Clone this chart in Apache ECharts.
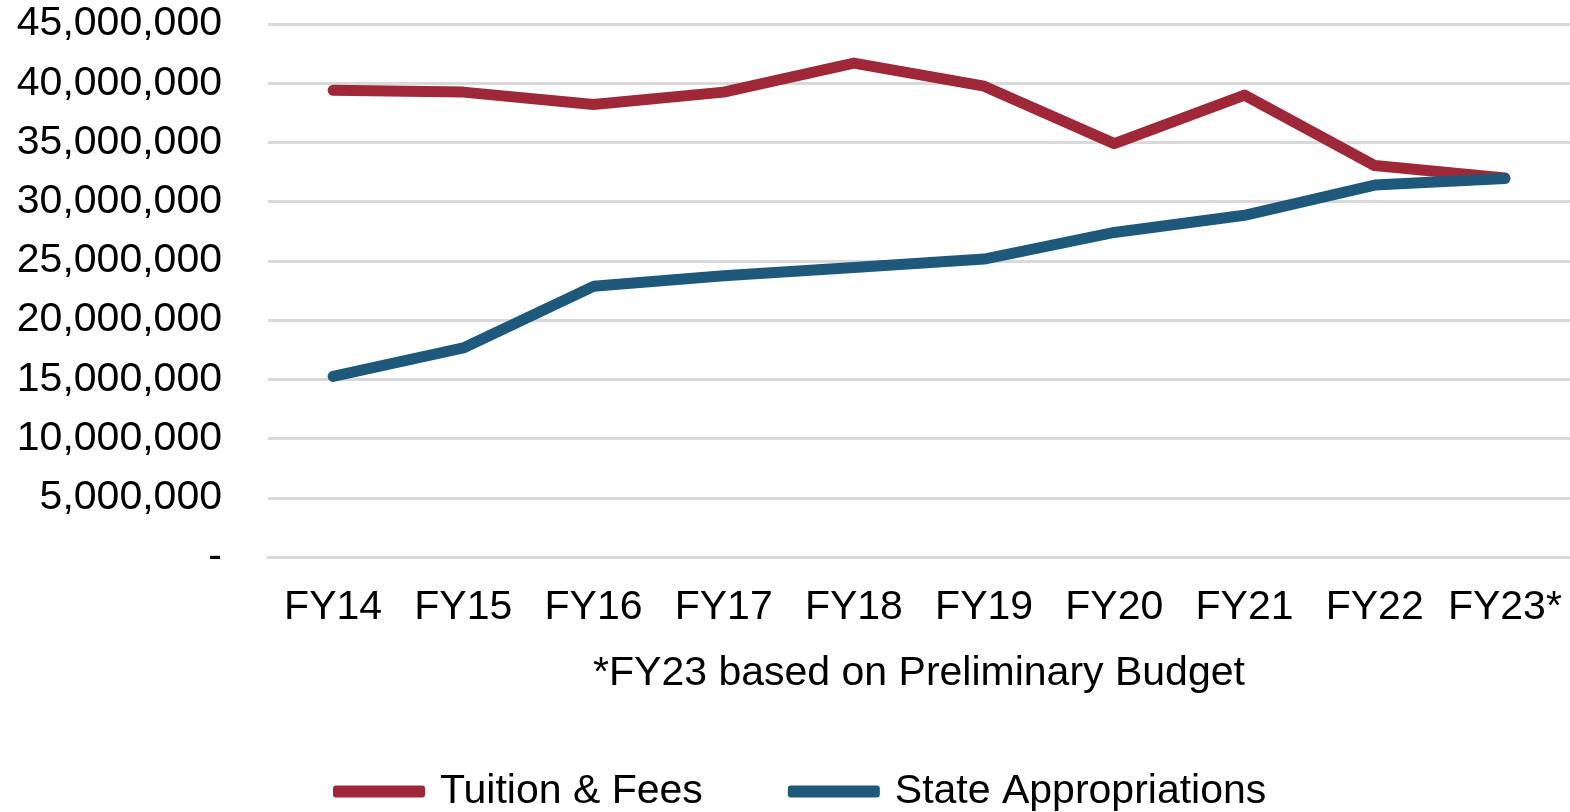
<!DOCTYPE html>
<html>
<head>
<meta charset="utf-8">
<script src="https://cdn.jsdelivr.net/npm/echarts@6/dist/echarts.min.js"></script>
<style>
  html, body { margin: 0; padding: 0; background: #fff; }
  #chart { width: 1570px; height: 812px; }
</style>
</head>
<body>
<div id="chart"></div>
<script>
var years = ['FY14', 'FY15', 'FY16', 'FY17', 'FY18', 'FY19', 'FY20', 'FY21', 'FY22', 'FY23*'];
var tuitionFees = [39400000, 39250000, 38200000, 39250000, 41700000, 39750000, 34900000, 39000000, 33050000, 32000000];
var stateAppropriations = [15250000, 17650000, 22850000, 23750000, 24450000, 25150000, 27400000, 28850000, 31400000, 31950000];
var footnote = '*FY23 based on Preliminary Budget';

var font = 'Liberation Sans, Arial, sans-serif';
var chart = echarts.init(document.getElementById('chart'));

chart.setOption({
  animation: false,
  grid: { left: 268, top: 24, width: 1310, height: 533 },
  legend: {
    left: 328,
    top: 766,
    icon: 'roundRect',
    itemWidth: 92,
    itemHeight: 12,
    itemGap: 85,
    textStyle: { fontFamily: font, fontSize: 41, color: '#000', padding: [0, 0, 0, 10] },
    data: ['Tuition & Fees', 'State Appropriations']
  },
  xAxis: {
    type: 'category',
    data: years,
    axisLine: { lineStyle: { color: '#d9d9d9', width: 3 } },
    axisTick: { show: false },
    axisLabel: { fontFamily: font, fontSize: 41, color: '#000', margin: 30, interval: 0 },
    name: footnote,
    nameLocation: 'middle',
    nameGap: 96,
    nameTextStyle: { fontFamily: font, fontSize: 41, color: '#000' }
  },
  yAxis: {
    type: 'value',
    min: 0,
    max: 45000000,
    interval: 5000000,
    axisLine: { show: false },
    axisTick: { show: false },
    splitLine: { lineStyle: { color: '#d9d9d9', width: 3 } },
    axisLabel: {
      fontFamily: font, fontSize: 41, color: '#000', margin: 46,
      formatter: function (v) { return v === 0 ? '-' : v.toLocaleString('en-US'); }
    }
  },
  series: [
    {
      name: 'Tuition & Fees',
      type: 'line',
      data: tuitionFees,
      showSymbol: false,
      color: '#9E2838',
      lineStyle: { width: 11, cap: 'round', join: 'round' }
    },
    {
      name: 'State Appropriations',
      type: 'line',
      data: stateAppropriations,
      showSymbol: false,
      color: '#1E587A',
      lineStyle: { width: 11, cap: 'round', join: 'round' }
    }
  ]
});
</script>
</body>
</html>
